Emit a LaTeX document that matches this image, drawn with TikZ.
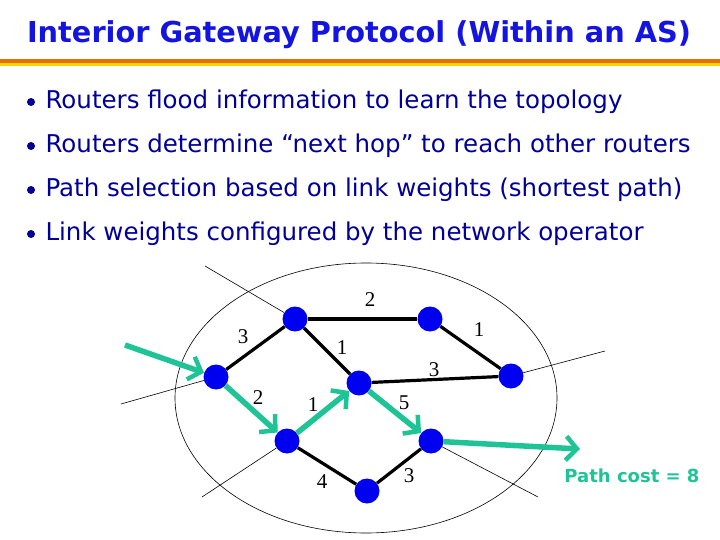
\documentclass[tikz,border=0pt]{standalone}
\usepackage{fontspec}
\setmainfont{DejaVu Sans}
\newfontfamily\numfont{Liberation Serif}
\usetikzlibrary{arrows.meta}
\definecolor{titleblue}{RGB}{20,20,225}
\definecolor{textblue}{RGB}{0,0,150}
\definecolor{pathgreen}{RGB}{30,195,150}
\definecolor{rulered}{RGB}{230,110,0}
\definecolor{ruleyellow}{RGB}{255,215,0}
\definecolor{routerblue}{RGB}{0,0,240}

\begin{document}
\begin{tikzpicture}[x=1pt,y=-1pt,
		router/.style={circle,fill=routerblue,minimum size=25pt,inner sep=0pt},
		link/.style={line width=3.2pt},
		stub/.style={line width=0.6pt},
		hop/.style={line width=5.5pt,draw=pathgreen,-{Straight Barb[length=11pt,width=24pt,line width=4.5pt]}},
		weight/.style={font=\numfont\fontsize{21}{21}\selectfont},
		bullet/.style={anchor=west,text=textblue,font=\fontsize{24.5}{27}\selectfont}]
		\useasboundingbox (0,0) rectangle (720,540);
		
		% title and rule
		\node[text=titleblue,font=\bfseries\fontsize{28.8}{32}\selectfont] (title) at (359,35) {Interior Gateway Protocol (Within an AS)};
		\fill[rulered] (0,59) rectangle (720,63);
		\fill[ruleyellow] (0,63) rectangle (720,66);
		
		% bullets
		\fill[textblue] (31,102) circle (4pt);
		\fill[textblue] (31,146) circle (4pt);
		\fill[textblue] (31,190) circle (4pt);
		\fill[textblue] (31,234) circle (4pt);
		\node[bullet] (b1) at (42,102) {Routers flood information to learn the topology};
		\node[bullet] (b2) at (42,146) {Routers determine “next hop” to reach other routers};
		\node[bullet] (b3) at (42,190) {Path selection based on link weights (shortest path)};
		\node[bullet] (b4) at (42,234) {Link weights configured by the network operator};
		
		% the AS
		\draw[stub] (366,398) ellipse [x radius=191, y radius=135];
		
		% routers
		\node[router] (A) at (295,319) {};
		\node[router] (B) at (430,319) {};
		\node[router] (C) at (216,377) {};
		\node[router] (D) at (359,383) {};
		\node[router] (E) at (511,376) {};
		\node[router] (F) at (287,441) {};
		\node[router] (G) at (431,441) {};
		\node[router] (H) at (367,491) {};
		
		% links leaving the AS
		\coordinate (xA) at (205,266);
		\coordinate (xC) at (121,404);
		\coordinate (xE) at (605,351);
		\coordinate (xF) at (202,497);
		\coordinate (xG) at (538,497);
		\draw[stub] (A) -- (xA);
		\draw[stub] (C) -- (xC);
		\draw[stub] (E) -- (xE);
		\draw[stub] (F) -- (xF);
		\draw[stub] (G) -- (xG);
		
		% weighted links
		\draw[link] (A) -- (B);
		\draw[link] (A) -- (C);
		\draw[link] (A) -- (D);
		\draw[link] (B) -- (E);
		\draw[link] (D) -- (E);
		\draw[link] (F) -- (H);
		\draw[link] (H) -- (G);
		
		% shortest path
		\coordinate (in) at (125,345);
		\coordinate (out) at (580,449);
		\draw[hop] (in) -- (C);
		\draw[hop] (C) -- (F);
		\draw[hop] (F) -- (D);
		\draw[hop] (D) -- (G);
		\draw[hop] (G) -- (out);
		
		% weights
		\node[weight] (wAB) at (370,300) {2};
		\node[weight] (wAC) at (243,337) {3};
		\node[weight] (wAD) at (342,348) {1};
		\node[weight] (wBE) at (479,330) {1};
		\node[weight] (wDE) at (434,370) {3};
		\node[weight] (wCF) at (258,398) {2};
		\node[weight] (wFD) at (313,405) {1};
		\node[weight] (wDG) at (404,403) {5};
		\node[weight] (wFH) at (322,482) {4};
		\node[weight] (wHG) at (409,476) {3};
		
		\node[text=pathgreen,font=\bfseries\fontsize{18}{20}\selectfont] (cost) at (632,476) {Path cost = 8};
	\end{tikzpicture}
\end{document}
